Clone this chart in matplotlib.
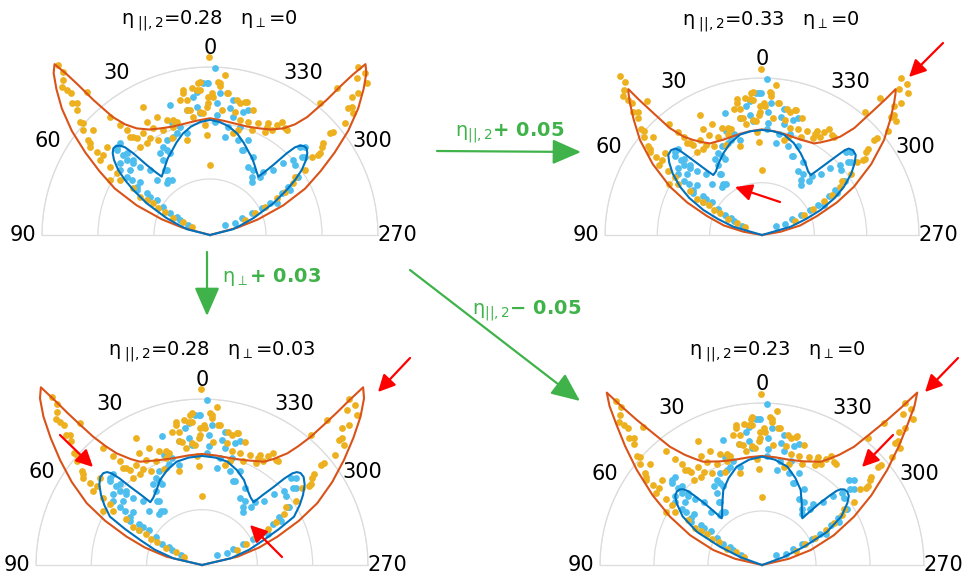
import numpy as np
import matplotlib
matplotlib.use("Agg")
import matplotlib.pyplot as plt

plt.rcParams['font.family'] = ['DejaVu Sans']
plt.rcParams['mathtext.fontset'] = 'dejavusans'
plt.rcParams['mathtext.default'] = 'regular'

# ---- data (angles in degrees, radius in units of the outer grid ring) ----
tick_deg = [-90, -60, -30, 0, 30, 60, 90]
tick_lbl = ['270', '300', '330', '0', '30', '60', '90']

# fitted curves, left half only (from 90 down to 0), mirrored for the right half
orange_fit_1 = [(90, 0), (79, 0), (75, 0.17), (72, 0.30), (68, 0.47), (64, 0.63), (60, 0.76), (56.5, 0.89),
                (53, 1.03), (49.5, 1.16), (46.5, 1.26), (44, 1.34), (42.3, 1.375), (41.7, 1.28), (41.3, 1.19),
                (40.8, 1.06), (39.5, 0.91), (37.5, 0.83), (34.5, 0.77), (30, 0.725), (25, 0.70), (18.7, 0.682),
                (12, 0.68), (6.6, 0.685), (0, 0.695)]
blue_fit_1 = [(90, 0), (78, 0), (76, 0.14), (72, 0.20), (68.6, 0.28), (63.4, 0.421), (59.6, 0.529),
              (57.1, 0.603), (54.7, 0.669), (52, 0.725), (50, 0.756), (48.1, 0.773), (46.6, 0.770),
              (45.2, 0.755), (44.1, 0.727), (43.2, 0.667), (42.1, 0.562), (41, 0.50), (39.6, 0.451),
              (36, 0.47), (33, 0.49), (29, 0.52), (25, 0.545), (20, 0.585), (15, 0.625), (10, 0.655),
              (5, 0.675), (0, 0.685)]

orange_fit_2 = [(90, 0), (83, 0), (80, 0.12), (76, 0.25), (71, 0.37), (66.5, 0.52), (62.3, 0.662), (57, 0.83),
                (52.1, 0.985), (48, 1.10), (45, 1.19), (43.3, 1.24), (42.5, 1.26), (42.3, 1.17), (41.8, 1.06),
                (40.8, 0.90), (38.5, 0.80), (35.9, 0.747), (32.5, 0.70), (29.6, 0.671), (22, 0.655),
                (14.2, 0.657), (7, 0.665), (0, 0.673)]
blue_fit_2 = [(90, 0), (80, 0), (73.9, 0.19), (70, 0.30), (66.9, 0.406), (63, 0.52), (59.5, 0.606),
              (55.5, 0.69), (52, 0.75), (49.5, 0.785), (47, 0.792), (45.1, 0.78), (44.3, 0.755),
              (43.5, 0.70), (42, 0.61), (40.5, 0.54), (39.1, 0.492), (36, 0.50), (31, 0.535),
              (25.3, 0.576), (19, 0.62), (12.2, 0.655), (6, 0.665), (0, 0.669)]

orange_fit_3 = [(90, 0), (80, 0), (76.8, 0.22), (73, 0.36), (69.4, 0.485), (65.5, 0.64), (61.8, 0.788),
                (57.5, 0.93), (53.5, 1.064), (50, 1.19), (46.9, 1.308), (44.2, 1.40), (42.2, 1.445),
                (41.8, 1.33), (41.5, 1.225), (41, 1.12), (40.3, 1.013), (39, 0.92), (37.4, 0.847), (34, 0.77),
                (31, 0.726), (23, 0.685), (15, 0.666), (7, 0.665), (0, 0.669)]
blue_fit_3 = [(90, 0), (79, 0), (76.9, 0.177), (72, 0.30), (68, 0.40), (65, 0.51), (62.3, 0.626), (58.5, 0.69),
              (55.3, 0.74), (52, 0.785), (49.1, 0.81), (47, 0.812), (45.6, 0.80), (44.6, 0.775), (43.6, 0.72),
              (42.6, 0.641), (41, 0.56), (39.4, 0.49), (36, 0.50), (31, 0.53), (26.3, 0.571), (20, 0.61),
              (13.8, 0.641), (7, 0.652), (0, 0.657)]

orange_fit_4 = [(90, 0), (81, 0), (77, 0.17), (72.9, 0.315), (67.5, 0.48), (62.3, 0.641), (57.5, 0.80),
                (52.8, 0.97), (49, 1.12), (46, 1.25), (43.8, 1.36), (42, 1.432), (41.5, 1.30), (40.8, 1.183),
                (39.5, 1.05), (37.9, 0.925), (35, 0.83), (32, 0.77), (29.6, 0.733), (22, 0.69), (15.3, 0.672),
                (7, 0.67), (0, 0.673)]
blue_fit_4 = [(90, 0), (73, 0), (70, 0.14), (66.5, 0.283), (63, 0.45), (58.5, 0.575), (54.1, 0.65),
              (51.5, 0.685), (49.3, 0.694), (47.5, 0.69), (46.1, 0.674), (45.2, 0.65), (44.3, 0.60),
              (43, 0.52), (41.8, 0.44), (40.8, 0.381), (38, 0.40), (33, 0.45), (27.3, 0.521), (21, 0.575),
              (14.4, 0.627), (7, 0.655), (0, 0.669)]

# measured points (same data set in every panel)
orange_pts = [(41.7, 1.356), (41.9, 1.307), (43.5, 1.273), (44.5, 1.183), (46.3, 1.134), (46.7, 1.085),
              (40.7, 1.125), (48.9, 1.026), (50.3, 0.979), (52.0, 0.919), (53.6, 0.887), (40.2, 0.922),
              (45.0, 1.248), (29.2, 0.773), (24.3, 0.773), (20.6, 0.731), (16.4, 0.703), (10.7, 0.858),
              (7.1, 0.880), (4.6, 0.736), (10.6, 0.757), (39.1, 0.754), (37.2, 0.722), (33.3, 0.724),
              (28.0, 0.719), (24.0, 0.684), (28.6, 0.644), (38.4, 0.671), (18.7, 0.681), (1.9, 0.595),
              (2.6, 0.656), (0.2, 1.058), (10.4, 0.878), (4.4, 0.905), (-3.1, 0.914), (-7.4, 0.850),
              (-11.2, 0.819), (-14.7, 0.820), (-5.3, 0.747), (-1.4, 0.823), (1.5, 0.764), (0.0, 0.417),
              (-5.4, 0.957), (-0.7, 0.843), (-6.7, 0.849), (-12.8, 0.804), (-15.4, 0.823), (-11.5, 0.749),
              (-18.7, 0.712), (-23.4, 0.724), (-27.6, 0.750), (-31.2, 0.766), (-35.1, 0.776), (-28.0, 0.697),
              (-15.1, 0.647), (-21.7, 0.672), (-39.9, 1.021), (-50.0, 0.957), (-47.8, 1.137), (-49.7, 1.119),
              (-46.3, 1.221), (-43.1, 1.277), (-43.8, 1.333), (-41.4, 1.336), (-45.9, 1.298), (-47.5, 1.117),
              (-40.8, 1.154), (52.6, 0.899), (53.7, 0.837), (53.1, 0.794), (55.7, 0.721), (56.5, 0.666),
              (58.6, 0.628), (61.3, 0.475), (61.1, 0.431), (60.8, 0.387), (62.7, 0.346), (62.6, 0.302),
              (65.5, 0.240), (63.5, 0.178), (65.6, 0.120), (58.7, 0.534), (-66.8, 0.227), (-64.3, 0.297),
              (-60.0, 0.515), (-58.2, 0.584), (-55.6, 0.685), (-53.5, 0.801), (-51.0, 0.868), (-61.2, 0.453),
              (-49.7, 0.936), (-53.4, 0.816), (27.5, 0.861), (38.0, 0.742), (34.6, 0.663), (13.8, 0.582),
              (17.7, 0.718), (-19.1, 0.787), (-27.6, 0.728), (-36.1, 0.774), (-12.9, 0.621), (3.9, 0.865),
              (-3.9, 0.886), (9.1, 0.753), (12.5, 0.823), (8.0, 0.711), (3.2, 0.726), (0.7, 0.823),
              (5.2, 0.867), (9.8, 0.815), (3.7, 0.915), (21.6, 0.619), (31.8, 0.677), (38.4, 0.798),
              (39.3, 0.846), (-3.8, 0.906), (0.7, 0.784), (-14.6, 0.707), (-30.4, 0.725), (-32.3, 0.798),
              (-45.7, 1.179), (-50.4, 1.043), (44.7, 1.213), (45.3, 1.115), (48.6, 1.005), (48.0, 0.934),
              (49.5, 0.809), (55.7, 0.792), (61.2, 0.679), (-62.8, 0.368), (-55.6, 0.614), (-52.4, 0.764),
              (-51.7, 0.848)]
blue_pts = [(-1.7, 0.992), (2.5, 0.904), (5.3, 0.857), (-4.0, 0.846), (-9.8, 0.815), (-17.0, 0.778),
            (17.1, 0.810), (10.6, 0.757), (4.7, 0.727), (-3.2, 0.716), (-11.1, 0.718), (15.5, 0.669),
            (20.5, 0.625), (27.0, 0.568), (31.9, 0.526), (34.7, 0.471), (37.2, 0.411), (44.1, 0.456),
            (-15.5, 0.669), (-22.0, 0.610), (-29.0, 0.533), (-33.7, 0.465), (-38.0, 0.403), (-40.6, 0.457),
            (-21.4, 0.543), (46.6, 0.765), (45.6, 0.694), (51.5, 0.685), (45.6, 0.638), (45.7, 0.582),
            (42.7, 0.527), (54.9, 0.570), (58.5, 0.512), (61.1, 0.431), (-45.5, 0.750), (-50.5, 0.733),
            (-48.0, 0.667), (-45.6, 0.610), (-44.2, 0.540), (-56.1, 0.622), (-60.6, 0.546), (-64.6, 0.440),
            (55.0, 0.605), (56.6, 0.523), (56.6, 0.451), (52.7, 0.524), (56.7, 0.380), (58.8, 0.325),
            (61.5, 0.271), (63.4, 0.200), (65.3, 0.142), (47.7, 0.751), (48.0, 0.667), (46.9, 0.625),
            (54.2, 0.661), (31.5, 0.570), (40.0, 0.401), (26.1, 0.541), (-64.9, 0.164), (-62.2, 0.213),
            (-62.5, 0.280), (-62.7, 0.346), (-62.2, 0.404), (-58.3, 0.548), (-56.6, 0.630), (-49.5, 0.718),
            (-47.1, 0.772), (-35.6, 0.427), (-29.3, 0.466), (-20.5, 0.540), (-40.1, 0.493), (44.5, 0.765),
            (24.5, 0.621), (18.1, 0.637), (1.2, 0.903), (6.9, 0.829), (12.9, 0.621), (5.9, 0.768),
            (18.9, 0.703), (0.6, 0.903), (-2.9, 0.785), (-9.0, 0.764), (-15.1, 0.760), (-9.6, 0.654),
            (-16.6, 0.590), (-2.5, 0.675), (-8.7, 0.592), (-56.3, 0.107), (-59.8, 0.494), (-50.5, 0.655),
            (57.4, 0.424), (61.2, 0.226), (50.9, 0.613), (47.3, 0.702), (33.7, 0.465), (27.9, 0.594),
            (34.9, 0.399)]

eta_par = ['0.28', '0.33', '0.28', '0.23']
eta_perp = ['0', '0', '0.03', '0']

# ---- layout (pixels of the 964x578 canvas) ----
W, H = 964, 578
centers = [(210, 235), (762, 235), (202, 565), (762, 565)]
radii = [168, 157, 166, 162]
title_pos = [(209, 21), (771, 22), (212, 352), (777, 352)]
fits = [(orange_fit_1, blue_fit_1), (orange_fit_2, blue_fit_2),
        (orange_fit_3, blue_fit_3), (orange_fit_4, blue_fit_4)]

GRID = '#dcdcdc'
C_ORANGE_PT, C_BLUE_PT = '#EDB120', '#4DBEEE'
C_ORANGE_LN, C_BLUE_LN = '#D95319', '#0072BD'
GREEN = '#3fb34a'


def full_curve(half):
    a = np.array(half, dtype=float)
    th = np.r_[a[:, 0], -a[::-1, 0]]
    r = np.r_[a[:, 1], a[::-1, 1]]
    return np.deg2rad(th), r


fig = plt.figure(figsize=(W / 100, H / 100), dpi=100)

op = np.array(orange_pts)
bp = np.array(blue_pts)

for (cx, cy), R, (ofit, bfit) in zip(centers, radii, fits):
    # square box: matplotlib centres the half-disc vertically inside it
    ax = fig.add_axes([(cx - R) / W, (H - cy - 0.5 * R) / H, 2 * R / W, 2 * R / H], projection='polar')
    ax.set_theta_zero_location('N')
    ax.set_theta_direction(1)
    ax.set_thetamin(-90)
    ax.set_thetamax(90)
    ax.set_rlim(0, 1)
    ax.set_rticks([1 / 3, 2 / 3, 1])
    ax.set_yticklabels([])
    ax.set_thetagrids(tick_deg, tick_lbl)
    ax.xaxis.grid(False)
    ax.yaxis.grid(True, color=GRID, lw=0.9)
    for sp in ax.spines.values():
        sp.set_color(GRID)
        sp.set_linewidth(0.9)
    ax.tick_params(axis='x', labelsize=15, pad=7, length=0)
    ax.tick_params(axis='y', length=0)
    ax.set_facecolor('none')

    ax.scatter(np.deg2rad(bp[:, 0]), bp[:, 1], s=24, color=C_BLUE_PT, lw=0, clip_on=False, zorder=3)
    ax.scatter(np.deg2rad(op[:, 0]), op[:, 1], s=24, color=C_ORANGE_PT, lw=0, clip_on=False, zorder=3)
    th, r = full_curve(ofit)
    ax.plot(th, r, color=C_ORANGE_LN, lw=1.5, clip_on=False, zorder=4)
    th, r = full_curve(bfit)
    ax.plot(th, r, color=C_BLUE_LN, lw=1.5, clip_on=False, zorder=4)

# overlay for titles and arrows, in canvas pixels
ov = fig.add_axes([0, 0, 1, 1])
ov.set_xlim(0, W)
ov.set_ylim(H, 0)
ov.axis('off')

for (tx, ty), p, q in zip(title_pos, eta_par, eta_perp):
    ov.text(tx, ty, r'$\eta_{\ ||,2}$=' + p + r'   $\eta_{\perp}$=' + q,
            ha='center', va='center', fontsize=14)

green_arrows = [((437, 151), (581, 152)), ((207, 252), (207, 316)), ((410, 270), (580, 401))]
green_labels = [((510, 133), r'$\eta_{||,2}\mathbf{+\ 0.05}$'),
                ((272, 277), r'$\eta_{\perp}\mathbf{+\ 0.03}$'),
                ((527, 311), r'$\eta_{||,2}\mathbf{-\ 0.05}$')]
red_arrows = [((943, 43), (909, 77)), ((780, 202), (735, 187)), ((410, 358), (378, 392)),
              ((60, 435), (93, 467)), ((282, 557), (250, 525)), ((958, 358), (925, 392)),
              ((893, 435), (862, 467))]

for tail, head in green_arrows:
    ov.annotate('', xy=head, xytext=tail,
                arrowprops=dict(arrowstyle='-|>,head_length=0.8,head_width=0.35', color=GREEN,
                                lw=1.6, mutation_scale=22, shrinkA=0, shrinkB=0))
for (lx, ly), s in green_labels:
    ov.text(lx, ly, s, color=GREEN, fontsize=14, ha='center', va='center')
for tail, head in red_arrows:
    ov.annotate('', xy=head, xytext=tail,
                arrowprops=dict(arrowstyle='-|>,head_length=0.6,head_width=0.3', color='red',
                                lw=1.6, mutation_scale=17, shrinkA=0, shrinkB=0))

fig.savefig('out.png', dpi=100)
